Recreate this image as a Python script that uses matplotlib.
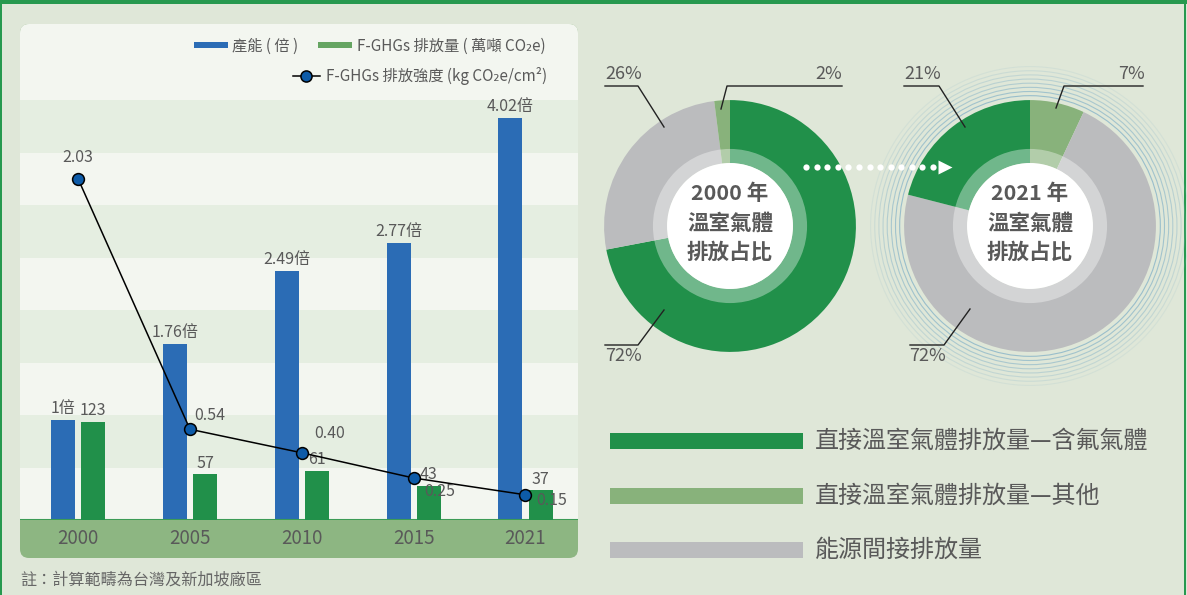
import numpy as np
import matplotlib
matplotlib.use("Agg")
import matplotlib.pyplot as plt
from matplotlib.patches import FancyBboxPatch, Rectangle, Circle, Wedge

plt.rcParams["font.family"] = ["Noto Sans CJK TC", "DejaVu Sans"]

# --- data -------------------------------------------------------------
years = ["2000", "2005", "2010", "2015", "2021"]
capacity = [1, 1.76, 2.49, 2.77, 4.02]          # 產能 (倍)
emission = [123, 57, 61, 43, 37]                # F-GHGs 排放量 (萬噸 CO2e)
intensity = [2.03, 0.54, 0.40, 0.25, 0.15]      # F-GHGs 排放強度

share_names = ["直接溫室氣體排放量—含氟氣體", "直接溫室氣體排放量—其他", "能源間接排放量"]
share_2000 = [72, 2, 26]
share_2021 = [21, 7, 72]

# --- style --------------------------------------------------------------
W, H = 1187, 595
BG = "#dfe7d8"
PANEL = "#f3f6f0"
BAND = "#e5eee1"
AXBAND = "#8db682"
BLUE = "#2b6cb5"
GREEN = "#21904a"
LIGHT = "#88b27b"
GRAY = "#bbbcbe"
TXT = "#595959"
share_colors = [GREEN, LIGHT, GRAY]


def px_rect(x, y, w, h):
    return [x / W, 1 - (y + h) / H, w / W, h / H]


fig = plt.figure(figsize=(W / 100, H / 100), dpi=100, facecolor=BG)

# background layer in pixel coords
bg = fig.add_axes([0, 0, 1, 1], zorder=0)
bg.set_xlim(0, W)
bg.set_ylim(H, 0)
bg.axis("off")
bg.add_patch(FancyBboxPatch((20, 24), 558, 534, boxstyle="round,pad=0,rounding_size=9",
                            fc=AXBAND, ec="none"))
bg.add_patch(FancyBboxPatch((20, 24), 558, 510, boxstyle="round,pad=0,rounding_size=9",
                            fc=PANEL, ec="none"))
bg.add_patch(Rectangle((20, 520), 558, 20, fc=AXBAND, ec="none"))
bg.add_patch(Rectangle((0, 0), W, 3.5, fc="#27994f", ec="none"))
bg.add_patch(Rectangle((0, 0), 2, H, fc="#27994f", ec="none"))
bg.add_patch(Rectangle((1184, 0), 2, H, fc="#27994f", ec="none"))

# --- bar / line chart ---------------------------------------------------
ax = fig.add_axes(px_rect(20, 100, 558, 420), zorder=1)
ax.set_facecolor("none")
for i in range(8):
    ax.add_patch(Rectangle((0, i / 8), 1, 1 / 8, transform=ax.transAxes,
                           fc=BAND if i % 2 else PANEL, ec="none", zorder=0))
ax.axhline(0, color="#3c9b55", lw=1.5, zorder=3)

x = np.arange(len(years))
bw, off = 0.215, 0.135
b1 = ax.bar(x - off, capacity, bw, color=BLUE, zorder=2)
ax.set_ylim(0, 4.2)
ax.set_xlim(-0.52, 4.47)
ax.bar_label(b1, labels=[f"{v:g}倍" for v in capacity], padding=2, fontsize=11.5, color=TXT)

ax2 = ax.twinx()
b2 = ax2.bar(x + off, emission, bw, color=GREEN, zorder=2)
ax2.set_ylim(0, 525)
ax2.bar_label(b2, padding=2, fontsize=11.5, color=TXT)

ax3 = ax.twinx()
ax3.plot(x, intensity, color="black", lw=1.1, marker="o", ms=8.5,
         mfc="#0d5ba8", mec="black", mew=1.1, zorder=4)
ax3.set_ylim(0, 2.5)
label_offsets = [(0, 9, "center", "bottom"), (3, 4, "left", "bottom"),
                 (9, 14, "left", "center"), (8, -10, "left", "center"),
                 (8, -4, "left", "center")]
for xi, v, (dx, dy, ha, va) in zip(x, intensity, label_offsets):
    ax3.annotate(f"{v:.2f}", (xi, v), xytext=(dx, dy), textcoords="offset points",
                 ha=ha, va=va, fontsize=11.5, color=TXT, zorder=5)

for a in (ax, ax2, ax3):
    for s in a.spines.values():
        s.set_visible(False)
    a.set_yticks([])
ax.set_xticks([])
for xi, yr in zip(x, years):
    ax.text(xi, -0.044, yr, transform=ax.get_xaxis_transform(), ha="center",
            va="center", fontsize=13.5, color=TXT)

# --- donuts -------------------------------------------------------------
def donut(cx, cy, shares, order, title, ripples=False):
    d = fig.add_axes(px_rect(cx - 170, cy - 170, 340, 340), zorder=2)
    d.pie([shares[i] for i in order], colors=[share_colors[i] for i in order],
          radius=1, startangle=90, counterclock=False,
          wedgeprops=dict(width=0.5, edgecolor="none"))
    d.set_xlim(-1.35, 1.35)
    d.set_ylim(-1.35, 1.35)
    d.set_aspect("equal")
    d.axis("off")
    if ripples:
        for k, r in enumerate(np.arange(1.035, 1.27, 0.033)):
            d.add_patch(Circle((0, 0), r, fill=False, ec="#8db7c9", lw=0.8,
                               alpha=max(0.85 - k * 0.1, 0.12), clip_on=False, zorder=0))
    d.add_patch(Wedge((0, 0), 0.612, 0, 360, width=0.112, fc="white", ec="none", alpha=0.36))
    d.add_patch(Circle((0, 0), 0.5, fc="white", ec="none"))
    for yy, t in zip([0.26, 0.025, -0.21], [title, "溫室氣體", "排放占比"]):
        d.text(0, yy, t, ha="center", va="center", fontsize=15.5, fontweight="bold", color=TXT)


donut(730, 226, share_2000, [0, 2, 1], "2000 年")
donut(1030, 226, share_2021, [1, 2, 0], "2021 年", ripples=True)

# --- foreground annotations (pixel coords) ------------------------------
fg = fig.add_axes([0, 0, 1, 1], zorder=5)
fg.set_xlim(0, W)
fg.set_ylim(H, 0)
fg.axis("off")
fg.patch.set_alpha(0)

# chart legend
fg.add_patch(Rectangle((194, 42), 34, 6, fc=BLUE, ec="none"))
fg.text(232, 46, "產能 ( 倍 )", va="center", fontsize=11, color=TXT)
fg.add_patch(Rectangle((318, 42), 34, 6, fc="#65a562", ec="none"))
fg.text(357, 46, "F-GHGs 排放量 ( 萬噸 CO₂e)", va="center", fontsize=11, color=TXT)
fg.plot([293, 320], [76, 76], color="black", lw=1.1)
fg.plot([306], [76], marker="o", ms=8, mfc="#0d5ba8", mec="black", mew=1.1)
fg.text(326, 76, "F-GHGs 排放強度 (kg CO₂e/cm²)", va="center", fontsize=11, color=TXT)

# note
fg.text(20, 580, "註：計算範疇為台灣及新加坡廠區", va="center", fontsize=11.6, color="#666666")

# percentage callouts
callouts = [
    ("26%", 605, "left", [(605, 86), (638, 86), (664, 127)], 74),
    ("2%", 842, "right", [(842, 86), (727, 86), (721, 109)], 74),
    ("72%", 605, "left", [(605, 345), (638, 345), (664, 310)], 356),
    ("21%", 904, "left", [(904, 86), (939, 86), (965, 127)], 74),
    ("7%", 1145, "right", [(1143, 86), (1064, 86), (1056, 108)], 74),
    ("72%", 909, "left", [(910, 345), (944, 345), (970, 309)], 356),
]
for t, tx, ha, pts, ty in callouts:
    xs, ys = zip(*pts)
    fg.plot(xs, ys, color="#222222", lw=1.0)
    fg.text(tx, ty, t, ha=ha, va="center", fontsize=13, color=TXT)

# dotted arrow between donuts
fg.plot(np.linspace(806, 933, 13), [167] * 13, "o", color="white", ms=4.5, mec="none")
fg.plot([945], [167], marker=">", color="white", ms=10, mec="none")

# share legend
for k, (name, col) in enumerate(zip(share_names, share_colors)):
    yy = 441 + k * 54.5
    fg.add_patch(Rectangle((610, yy - 8), 193, 16, fc=col, ec="none"))
    fg.text(815, yy, name, va="center", fontsize=17.3, color=TXT)

fig.savefig("out.png", dpi=100, facecolor=BG)
